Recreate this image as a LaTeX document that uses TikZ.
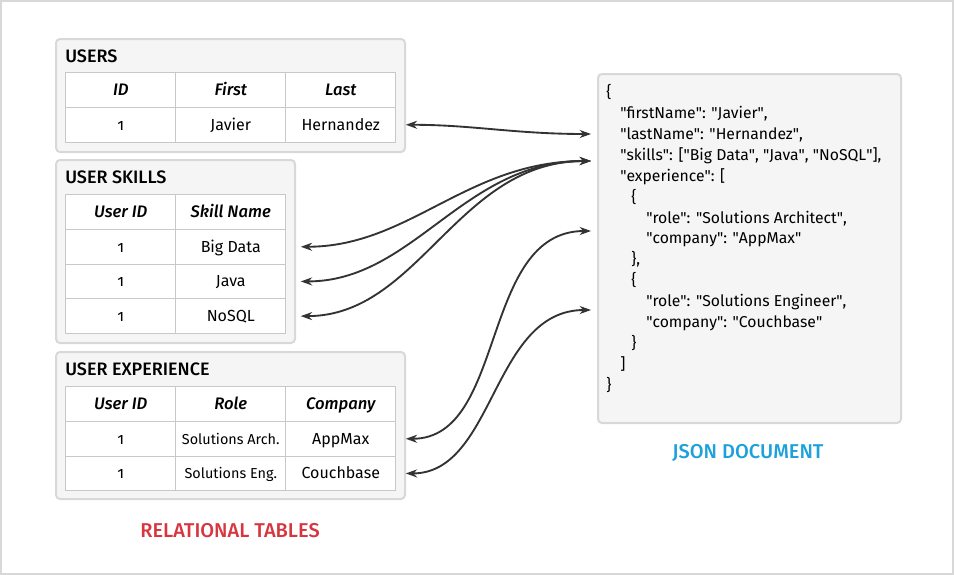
\documentclass[tikz,border=0pt]{standalone}
\usepackage{fontspec}
\setmainfont{Fira Sans}[Numbers=OldStyle,BoldFont={Fira Sans Medium},BoldItalicFont={Fira Sans Medium Italic}]
\usetikzlibrary{matrix}
\usetikzlibrary{arrows.meta}
\definecolor{panelfill}{RGB}{245,245,245}
\definecolor{paneldraw}{RGB}{216,216,216}
\definecolor{celldraw}{RGB}{200,200,200}
\definecolor{linkcolor}{RGB}{51,51,51}
\definecolor{relred}{RGB}{215,54,63}
\definecolor{jsonblue}{RGB}{29,161,219}
\newcommand{\dq}{\textquotedbl}
\tikzset{
  panel/.style={draw=paneldraw,fill=panelfill,line width=1.5pt,rounded corners=3pt,anchor=north west,inner sep=0pt},
  paneltitle/.style={anchor=west,inner sep=0pt,font=\fontsize{13.5}{16}\selectfont\bfseries},
  table/.style={matrix of nodes,anchor=north west,inner sep=0pt,row sep=-0.75pt,column sep=-0.75pt,
    nodes={draw=celldraw,fill=white,line width=0.75pt,outer sep=0pt,inner sep=0pt,anchor=center,
      text height=9pt,text depth=1pt,
      minimum width=82.5pt,minimum height=26pt,font=\fontsize{12}{14}\selectfont},
    row 1/.style={nodes={font=\fontsize{12.5}{14}\selectfont\bfseries\itshape}}},
  link/.style={{Stealth[length=8.5pt,width=6pt]}-{Stealth[length=8.5pt,width=6pt]},draw=linkcolor,line width=1.4pt,shorten <=7.5pt},
  caption/.style={font=\fontsize{15}{18}\selectfont\bfseries},
}

\begin{document}
\begin{tikzpicture}[x=0.75pt,y=-0.75pt]
  \useasboundingbox (0,0) rectangle (954,575);
  \draw[paneldraw,line width=1.5pt] (1,1) rectangle (953,574);

  % relational side
  \node (userspanel) [panel,minimum width=261.75pt,minimum height=84.75pt] at (55,38) {};
  \node (userstitle) [paneltitle] at (65,56) {USERS};
  \matrix (users) [table] at (65,72)
  {
    ID & First & Last \\
    1 & Javier & Hernandez \\};

  \node (skillspanel) [panel,minimum width=179.25pt,minimum height=137.25pt] at (55,159) {};
  \node (skillstitle) [paneltitle] at (65,177) {USER SKILLS};
  \matrix (skills) [table] at (65,194)
  {
    User ID & Skill Name \\
    1 & Big Data \\
    1 & Java \\
    1 & NoSQL \\};

  \node (exppanel) [panel,minimum width=261.75pt,minimum height=110.25pt] at (55,351) {};
  \node (exptitle) [paneltitle] at (65,369) {USER EXPERIENCE};
  \matrix (exp) [table] at (65,386)
  {
    User ID & Role & Company \\
    1 & |[font=\fontsize{10.8}{12}\selectfont]| Solutions Arch. & AppMax \\
    1 & |[font=\fontsize{10.8}{12}\selectfont]| Solutions Eng. & Couchbase \\};

  \node (reltitle) [caption,text=relred] at (230,531) {RELATIONAL TABLES};

  % json side
  \node (jsonpanel) [panel,minimum width=227.25pt,minimum height=261.75pt] at (597,73) {};
  \node (jsontext) [anchor=north west,inner sep=0pt,align=left,font=\fontsize{11.8}{15.7}\selectfont] at (606,84)
  {\{\\
   \hspace*{10.5pt}\dq firstName\dq: \dq Javier\dq,\\
   \hspace*{10.5pt}\dq lastName\dq: \dq Hernandez\dq,\\
   \hspace*{10.5pt}\dq skills\dq: [\dq Big Data\dq, \dq Java\dq, \dq NoSQL\dq],\\
   \hspace*{10.5pt}\dq experience\dq: [\\
   \hspace*{18.75pt}\{\\
   \hspace*{30pt}\dq role\dq: \dq Solutions Architect\dq,\\
   \hspace*{30pt}\dq company\dq: \dq AppMax\dq\\
   \hspace*{18.75pt}\},\\
   \hspace*{18.75pt}\{\\
   \hspace*{30pt}\dq role\dq: \dq Solutions Engineer\dq,\\
   \hspace*{30pt}\dq company\dq: \dq Couchbase\dq\\
   \hspace*{18.75pt}\}\\
   \hspace*{10.5pt}]\\
   \}};
  \node (jsontitle) [caption,text=jsonblue] at (748,453) {JSON DOCUMENT};

  \coordinate (jlast) at (591,134);
  \coordinate (jskills) at (591,161);
  \coordinate (jrole1) at (591,231);
  \coordinate (jrole2) at (591,310);

  % links
  \draw[link] (users-2-3.east) to[out=0,in=180] (jlast);
  \draw[link,shorten <=11.25pt] (skills-2-2.east) to[out=0,in=180] (jskills);
  \draw[link,shorten <=11.25pt] (skills-3-2.east) to[out=0,in=180] (jskills);
  \draw[link,shorten <=11.25pt] (skills-4-2.east) to[out=0,in=180] (jskills);
  \draw[link] (exp-2-3.east) to[out=0,in=180] (jrole1);
  \draw[link] (exp-3-3.east) to[out=0,in=180] (jrole2);
\end{tikzpicture}
\end{document}
